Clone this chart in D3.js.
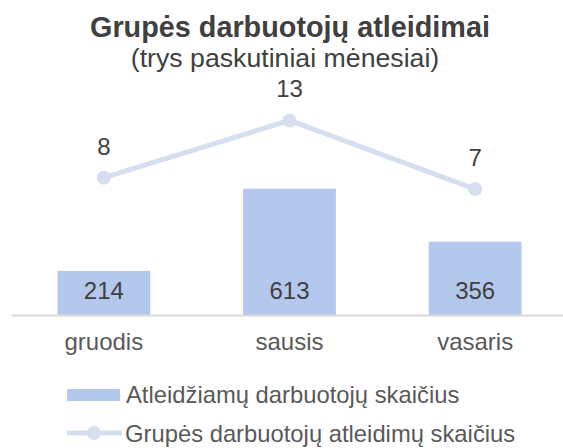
<!DOCTYPE html>
<html>
<head>
<meta charset="utf-8">
<script src="https://cdn.jsdelivr.net/npm/d3@7"></script>
<style>
  body { margin: 0; background: #fff; }
  svg { display: block; font-family: "Liberation Sans", Arial, sans-serif; }
</style>
</head>
<body>
<svg id="chart"></svg>
<script>
// chart data
const months = ["gruodis", "sausis", "vasaris"];
const dismissedEmployees = [214, 613, 356];
const groupDismissals = [8, 13, 7];
const seriesNames = ["Atleidžiamų darbuotojų skaičius", "Grupės darbuotojų atleidimų skaičius"];

const width = 563, height = 448;
const barColor = "#b4c8ee";
const lineColor = "#d5dff0";

const svg = d3.select("#chart").attr("width", width).attr("height", height);

// scales
const x = d3.scaleBand().domain(months).range([11, 568]).paddingInner(0.5).paddingOuter(0.25);
const yBar = d3.scaleLinear().domain([0, 1000]).range([315, 109]);
const yLine = d3.scaleLinear().domain([-4, 14]).range([315, 109]);

// title
svg.append("text")
  .attr("x", 290).attr("y", 37)
  .attr("text-anchor", "middle")
  .attr("font-size", 28.8).attr("font-weight", "bold")
  .attr("fill", "#404040")
  .text("Grupės darbuotojų atleidimai");

svg.append("text")
  .attr("x", 285).attr("y", 67)
  .attr("text-anchor", "middle")
  .attr("font-size", 26.7)
  .attr("fill", "#404040")
  .text("(trys paskutiniai mėnesiai)");

// bars
const bars = months.map((m, i) => ({ month: m, value: dismissedEmployees[i] }));
svg.append("g").selectAll("rect")
  .data(bars)
  .join("rect")
  .attr("x", d => x(d.month))
  .attr("y", d => yBar(d.value))
  .attr("width", x.bandwidth())
  .attr("height", d => yBar(0) - yBar(d.value))
  .attr("fill", barColor);

svg.append("g").selectAll("text")
  .data(bars)
  .join("text")
  .attr("x", d => x(d.month) + x.bandwidth() / 2)
  .attr("y", yBar(0) - 16)
  .attr("text-anchor", "middle")
  .attr("font-size", 24)
  .attr("fill", "#404040")
  .text(d => d.value);

// x axis
const xAxis = d3.axisBottom(x).tickSize(0).tickPadding(18);
const axisG = svg.append("g")
  .attr("transform", `translate(0,${yBar(0)})`)
  .call(xAxis);
axisG.select(".domain").attr("stroke", "#d9d9d9").attr("stroke-width", 2);
axisG.selectAll(".tick text")
  .attr("font-size", 24)
  .attr("font-family", "Liberation Sans, Arial, sans-serif")
  .attr("fill", "#595959");

// line series
const points = months.map((m, i) => ({ month: m, value: groupDismissals[i] }));
const line = d3.line()
  .x(d => x(d.month) + x.bandwidth() / 2)
  .y(d => yLine(d.value));

svg.append("path")
  .datum(points)
  .attr("d", line)
  .attr("fill", "none")
  .attr("stroke", lineColor)
  .attr("stroke-width", 5)
  .attr("stroke-linejoin", "round");

svg.append("g").selectAll("circle")
  .data(points)
  .join("circle")
  .attr("cx", d => x(d.month) + x.bandwidth() / 2)
  .attr("cy", d => yLine(d.value))
  .attr("r", 7)
  .attr("fill", lineColor);

svg.append("g").selectAll("text")
  .data(points)
  .join("text")
  .attr("x", d => x(d.month) + x.bandwidth() / 2)
  .attr("y", d => yLine(d.value) - 23)
  .attr("text-anchor", "middle")
  .attr("font-size", 24)
  .attr("fill", "#404040")
  .text(d => d.value);

// legend
const legend = svg.append("g");
legend.append("rect")
  .attr("x", 67).attr("y", 389).attr("width", 53).attr("height", 12)
  .attr("fill", barColor);
legend.append("text")
  .attr("x", 126).attr("y", 403)
  .attr("font-size", 23.8).attr("fill", "#595959")
  .text(seriesNames[0]);

legend.append("line")
  .attr("x1", 67).attr("x2", 122).attr("y1", 433).attr("y2", 433)
  .attr("stroke", lineColor).attr("stroke-width", 5);
legend.append("circle")
  .attr("cx", 94).attr("cy", 433).attr("r", 7)
  .attr("fill", lineColor);
legend.append("text")
  .attr("x", 125).attr("y", 442)
  .attr("font-size", 23.8).attr("fill", "#595959")
  .text(seriesNames[1]);
</script>
</body>
</html>
